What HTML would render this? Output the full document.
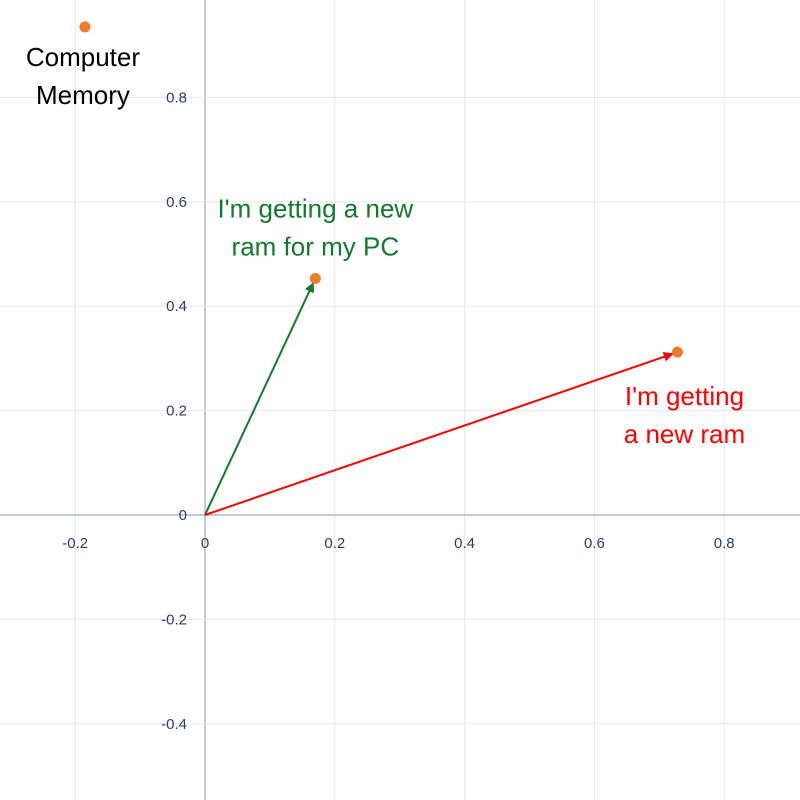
<!DOCTYPE html>
<html><head><meta charset="utf-8"><style>
html,body{margin:0;padding:0;background:#fff;}
svg{display:block;font-family:"Liberation Sans",sans-serif;}
</style></head><body>
<svg id="chart" width="800" height="800" viewBox="0 0 800 800" xmlns="http://www.w3.org/2000/svg">
<defs>
<marker id="ag" viewBox="0 0 10 10" refX="9" refY="5" markerWidth="5" markerHeight="5" orient="auto"><path d="M0,0 L10,5 L0,10 z" fill="#127a2c"/></marker>
<marker id="ar" viewBox="0 0 10 10" refX="9" refY="5" markerWidth="5" markerHeight="5" orient="auto"><path d="M0,0 L10,5 L0,10 z" fill="#ff0000"/></marker>
</defs>
<g id="grid"></g><g id="ticks"></g><g id="marks"></g>
</svg>
<script>
const xTicks=[-0.2,0,0.2,0.4,0.6,0.8];
const yTicks=[-0.4,-0.2,0,0.2,0.4,0.6,0.8];
const xTickLabels=["-0.2","0","0.2","0.4","0.6","0.8"];
const yTickLabels=["-0.4","-0.2","0","0.2","0.4","0.6","0.8"];
const pointLabels=["Computer\nMemory","I'm getting a new\nram for my PC","I'm getting\na new ram"];
const pointX=[-0.185,0.17,0.728];
const pointY=[0.935,0.453,0.312];
const arrowFlags=[false,true,true];
const labelColors=["#000000","#127a2c","#ff0000"];
const X=v=>205+v*649, Y=v=>515-v*522;
const NS="http://www.w3.org/2000/svg";
function mk(t,a,p){const e=document.createElementNS(NS,t);for(const k in a)e.setAttribute(k,a[k]);p.appendChild(e);return e;}
const grid=document.getElementById('grid'),ticks=document.getElementById('ticks'),marks=document.getElementById('marks');
xTicks.forEach((v,i)=>{
 const l=mk('line',{x1:X(v),x2:X(v),y1:0,y2:800,stroke:v===0?'#c3cad6':'#e3e7ee','stroke-width':v===0?2:1},grid);
 
 
 const t=mk('text',{x:X(v),y:548,'text-anchor':'middle','font-size':15,fill:'#2a3f5f'},ticks);t.textContent=xTickLabels[i];
 
 
});
yTicks.forEach((v,i)=>{
 const l=mk('line',{x1:0,x2:800,y1:Y(v),y2:Y(v),stroke:v===0?'#c3cad6':'#e3e7ee','stroke-width':v===0?2:1},grid);
 
 
 const t=mk('text',{x:187,y:Y(v)+5,'text-anchor':'end','font-size':15,fill:'#2a3f5f'},ticks);t.textContent=yTickLabels[i];
 
 
});
const labelDx=[-2,0,7];
const labelDy=[39,-61,53];
pointX.forEach((x,i)=>{
 if(arrowFlags[i]){
  const dx=X(x)-X(0),dy=Y(pointY[i])-Y(0),len=Math.hypot(dx,dy),s=(len-5)/len;
  const a=mk('line',{x1:X(0),y1:Y(0),x2:X(0)+dx*s,y2:Y(0)+dy*s,stroke:labelColors[i],'stroke-width':2,'marker-end':i===1?'url(#ag)':'url(#ar)'},marks);
  
  
 }
 const c=mk('circle',{cx:X(x),cy:Y(pointY[i]),r:5.5,fill:'#f07c2a'},marks);
 
 
 const lines=pointLabels[i].split('\n');
 const txt=mk('text',{'text-anchor':'middle','font-size':26,fill:labelColors[i]},marks);
 
 
 lines.forEach((ln,j)=>{
  const sp=mk('tspan',{x:X(x)+labelDx[i],y:Y(pointY[i])+labelDy[i]+j*38},txt);sp.textContent=ln;
 });
});
</script>
</body></html>
